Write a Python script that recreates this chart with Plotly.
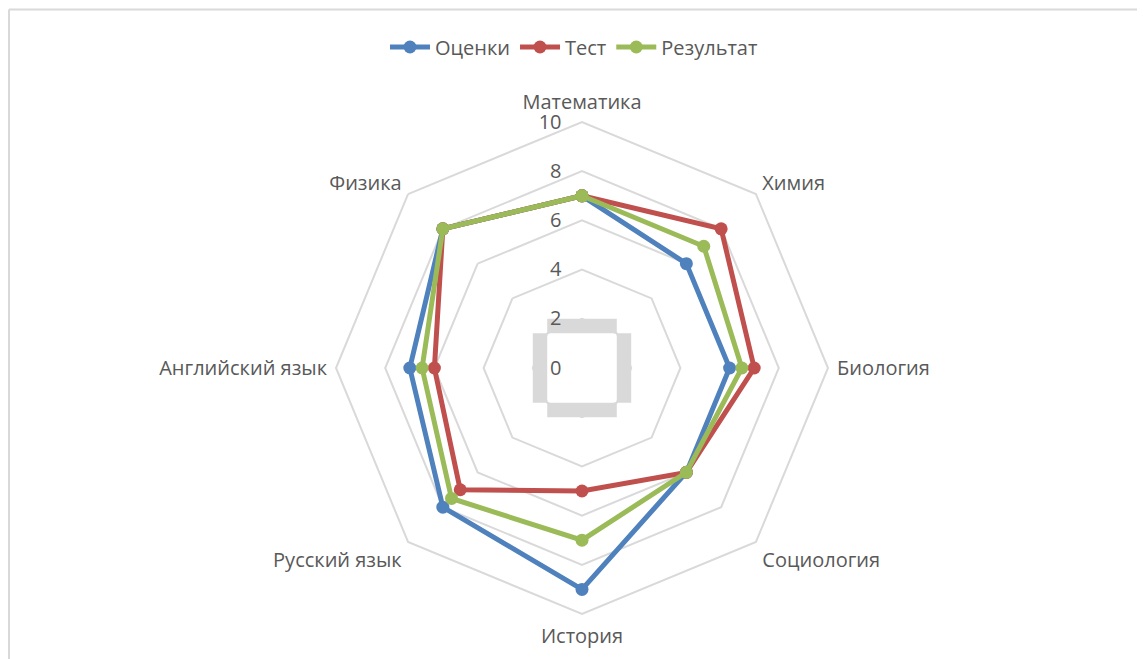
import plotly.graph_objects as go

categories = ["Математика", "Химия", "Биология", "Социология", "История",
              "Русский язык", "Английский язык", "Физика"]
ocenki = [7, 6, 6, 6, 9, 8, 7, 8]
test = [7, 8, 7, 6, 5, 7, 6, 8]
result = [7, 7, 6.5, 6, 7, 7.5, 6.5, 8]
series_names = ["Оценки", "Тест", "Результат"]
radial_ticks = [0, 2, 4, 6, 8, 10]

colors = ["#4F81BD", "#C0504D", "#9BBB59"]
text_color = "#595959"
grid_color = "#d9d9d9"
FONT = "Open Sans"
FS = 20

OFF = 8  # page body margin
W, H = 1137, 651
CX, CY, R = 582, 368, 246  # polar center (screen px) and outer radius


def px(x):
    return (x - OFF) / W


def py(y):
    return 1 - (y - OFF) / H


fig = go.Figure()
for name, vals, col in zip(series_names, [ocenki, test, result], colors):
    fig.add_trace(go.Scatterpolar(
        r=vals + vals[:1],
        theta=categories + categories[:1],
        mode="lines+markers",
        name=name,
        line=dict(color=col, width=5),
        marker=dict(color=col, size=13),
    ))

dom_x = [px(CX - R), px(CX + R)]
dom_y = [py(CY + R), py(CY - R)]

# grey box around the "2" ring (Excel rendering artifact)
r2 = 2 / 10 * R
inner = r2 * 0.7071
shapes = []
rects = [
    (CX - inner, CY - r2, CX + inner, CY - inner),
    (CX - inner, CY + inner, CX + inner, CY + r2),
    (CX - r2, CY - inner, CX - inner, CY + inner),
    (CX + inner, CY - inner, CX + r2, CY + inner),
]
for x0, y0, x1, y1 in rects:
    shapes.append(dict(type="rect", xref="paper", yref="paper",
                       x0=px(x0), x1=px(x1), y0=py(y1), y1=py(y0),
                       fillcolor=grid_color, line=dict(width=0), layer="below"))
# chart frame (top and left edges visible)
shapes.append(dict(type="line", xref="paper", yref="paper",
                   x0=px(9), x1=px(W + 20), y0=py(9.5), y1=py(9.5),
                   line=dict(color=grid_color, width=2)))
shapes.append(dict(type="line", xref="paper", yref="paper",
                   x0=px(9), x1=px(9), y0=py(9.5), y1=py(H + 20),
                   line=dict(color=grid_color, width=2)))

fig.update_layout(
    width=W, height=H,
    margin=dict(l=0, r=0, t=0, b=0),
    paper_bgcolor="white",
    font=dict(family=FONT, size=FS, color=text_color),
    showlegend=True,
    legend=dict(orientation="h", x=px(574), xanchor="center",
                y=py(47), yanchor="middle",
                font=dict(family=FONT, size=FS, color=text_color),
                itemwidth=40),
    polar=dict(
        domain=dict(x=dom_x, y=dom_y),
        bgcolor="rgba(0,0,0,0)",
        gridshape="linear",
        angularaxis=dict(
            type="category",
            categoryarray=categories,
            direction="clockwise",
            rotation=90,
            showgrid=False,
            showline=True,
            linecolor=grid_color,
            linewidth=2,
            ticks="outside",
            ticklen=4,
            tickcolor="rgba(0,0,0,0)",
            tickfont=dict(family=FONT, size=FS, color=text_color),
        ),
        radialaxis=dict(
            range=[0, 10],
            tickvals=radial_ticks,
            ticktext=[str(v) for v in radial_ticks],
            angle=90,
            side="counterclockwise",
            tickangle=90,
            showline=False,
            ticks="outside",
            ticklen=13,
            tickcolor="rgba(0,0,0,0)",
            gridcolor=grid_color,
            gridwidth=2,
            tickfont=dict(family=FONT, size=FS, color=text_color),
        ),
    ),
    shapes=shapes,
)

fig.write_html("out.html")
